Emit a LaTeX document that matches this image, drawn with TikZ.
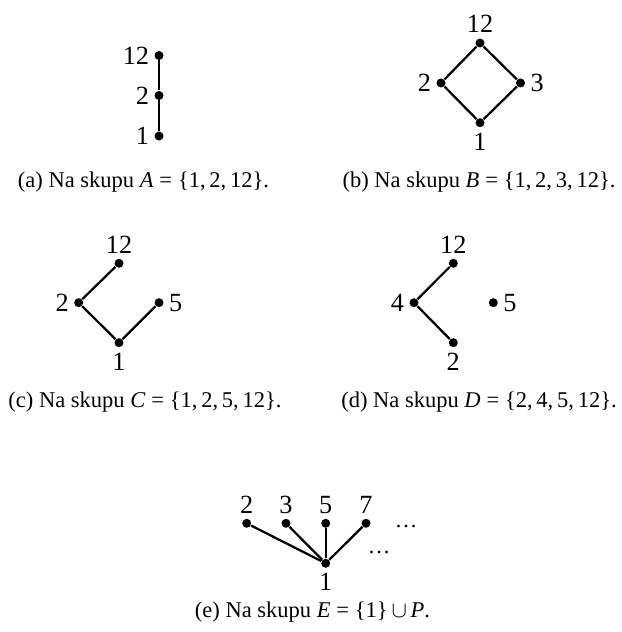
\documentclass[tikz,border=0pt]{standalone}
\usepackage{fontspec}
\setmainfont{Liberation Serif}
\newcommand{\eqsp}{\hspace{0.26em}=\hspace{0.26em}}
\begin{document}
\begin{tikzpicture}[x=0.4pt,y=-0.4pt,
  vtx/.style={circle,fill=black,inner sep=0pt,minimum size=3.6pt},
  edge/.style={line width=0.9pt},
  every label/.style={inner sep=0pt,font=\fontsize{10.5}{12}\selectfont},
  label distance=1.8pt,
  caption/.style={anchor=base,inner sep=0pt,font=\fontsize{9}{11}\selectfont}]
\useasboundingbox (0,0) rectangle (621,632);

% (a) chain 1 | 2 | 12
\node[vtx,label=left:12] (a12) at (159,55.5) {};
\node[vtx,label=left:2]  (a2)  at (159,95.5) {};
\node[vtx,label=left:1]  (a1)  at (159,136) {};
\draw[edge] (a1) -- (a2) -- (a12);
\node[caption] (capa) at (143.5,188) {(a) Na skupu \textit{A}\eqsp\{1,\,2,\,12\}.};

% (b) diamond
\node[vtx,label=above:12] (b12) at (480,43) {};
\node[vtx,label=left:2]   (b2)  at (441,83) {};
\node[vtx,label=right:3]  (b3)  at (520.5,83) {};
\node[vtx,label=below:1]  (b1)  at (480,122.7) {};
\draw[edge] (b1) -- (b2) -- (b12) -- (b3) -- (b1);
\node[caption] (capb) at (479,188) {(b) Na skupu \textit{B}\eqsp\{1,\,2,\,3,\,12\}.};

% (c)
\node[vtx,label=above:12] (c12) at (119,263.3) {};
\node[vtx,label=left:2]   (c2)  at (78.7,302.7) {};
\node[vtx,label=right:5]  (c5)  at (159,302.7) {};
\node[vtx,label=below:1]  (c1)  at (119,342.7) {};
\draw[edge] (c12) -- (c2) -- (c1) -- (c5);
\node[caption] (capc) at (145,407.5) {(c) Na skupu \textit{C}\eqsp\{1,\,2,\,5,\,12\}.};

% (d)
\node[vtx,label=above:12] (d12) at (453.3,263.3) {};
\node[vtx,label=left:4]   (d4)  at (414,302.7) {};
\node[vtx,label=right:5]  (d5)  at (493.3,302.7) {};
\node[vtx,label=below:2]  (d2)  at (453.3,342.7) {};
\draw[edge] (d12) -- (d4) -- (d2);
\node[caption] (capd) at (479,407.5) {(d) Na skupu \textit{D}\eqsp\{2,\,4,\,5,\,12\}.};

% (e) 1 below every prime
\node[vtx,label=above:2] (e2) at (246.7,523.3) {};
\node[vtx,label=above:3] (e3) at (286,523.3) {};
\node[vtx,label=above:5] (e5) at (325.7,523.3) {};
\node[vtx,label=above:7] (e7) at (366,523.3) {};
\node[vtx,label=below:1] (e1) at (325.7,563.3) {};
\foreach \p in {e2,e3,e5,e7} \draw[edge] (e1) -- (\p);
\node[caption] (edots1) at (406,527) {…};
\node[caption] (edots2) at (379,553.5) {…};
\node[caption] (cape) at (312.5,617) {(e) Na skupu \textit{E}\eqsp\{1\}\,\(\cup\)\,\textit{P}.};
\end{tikzpicture}
\end{document}
